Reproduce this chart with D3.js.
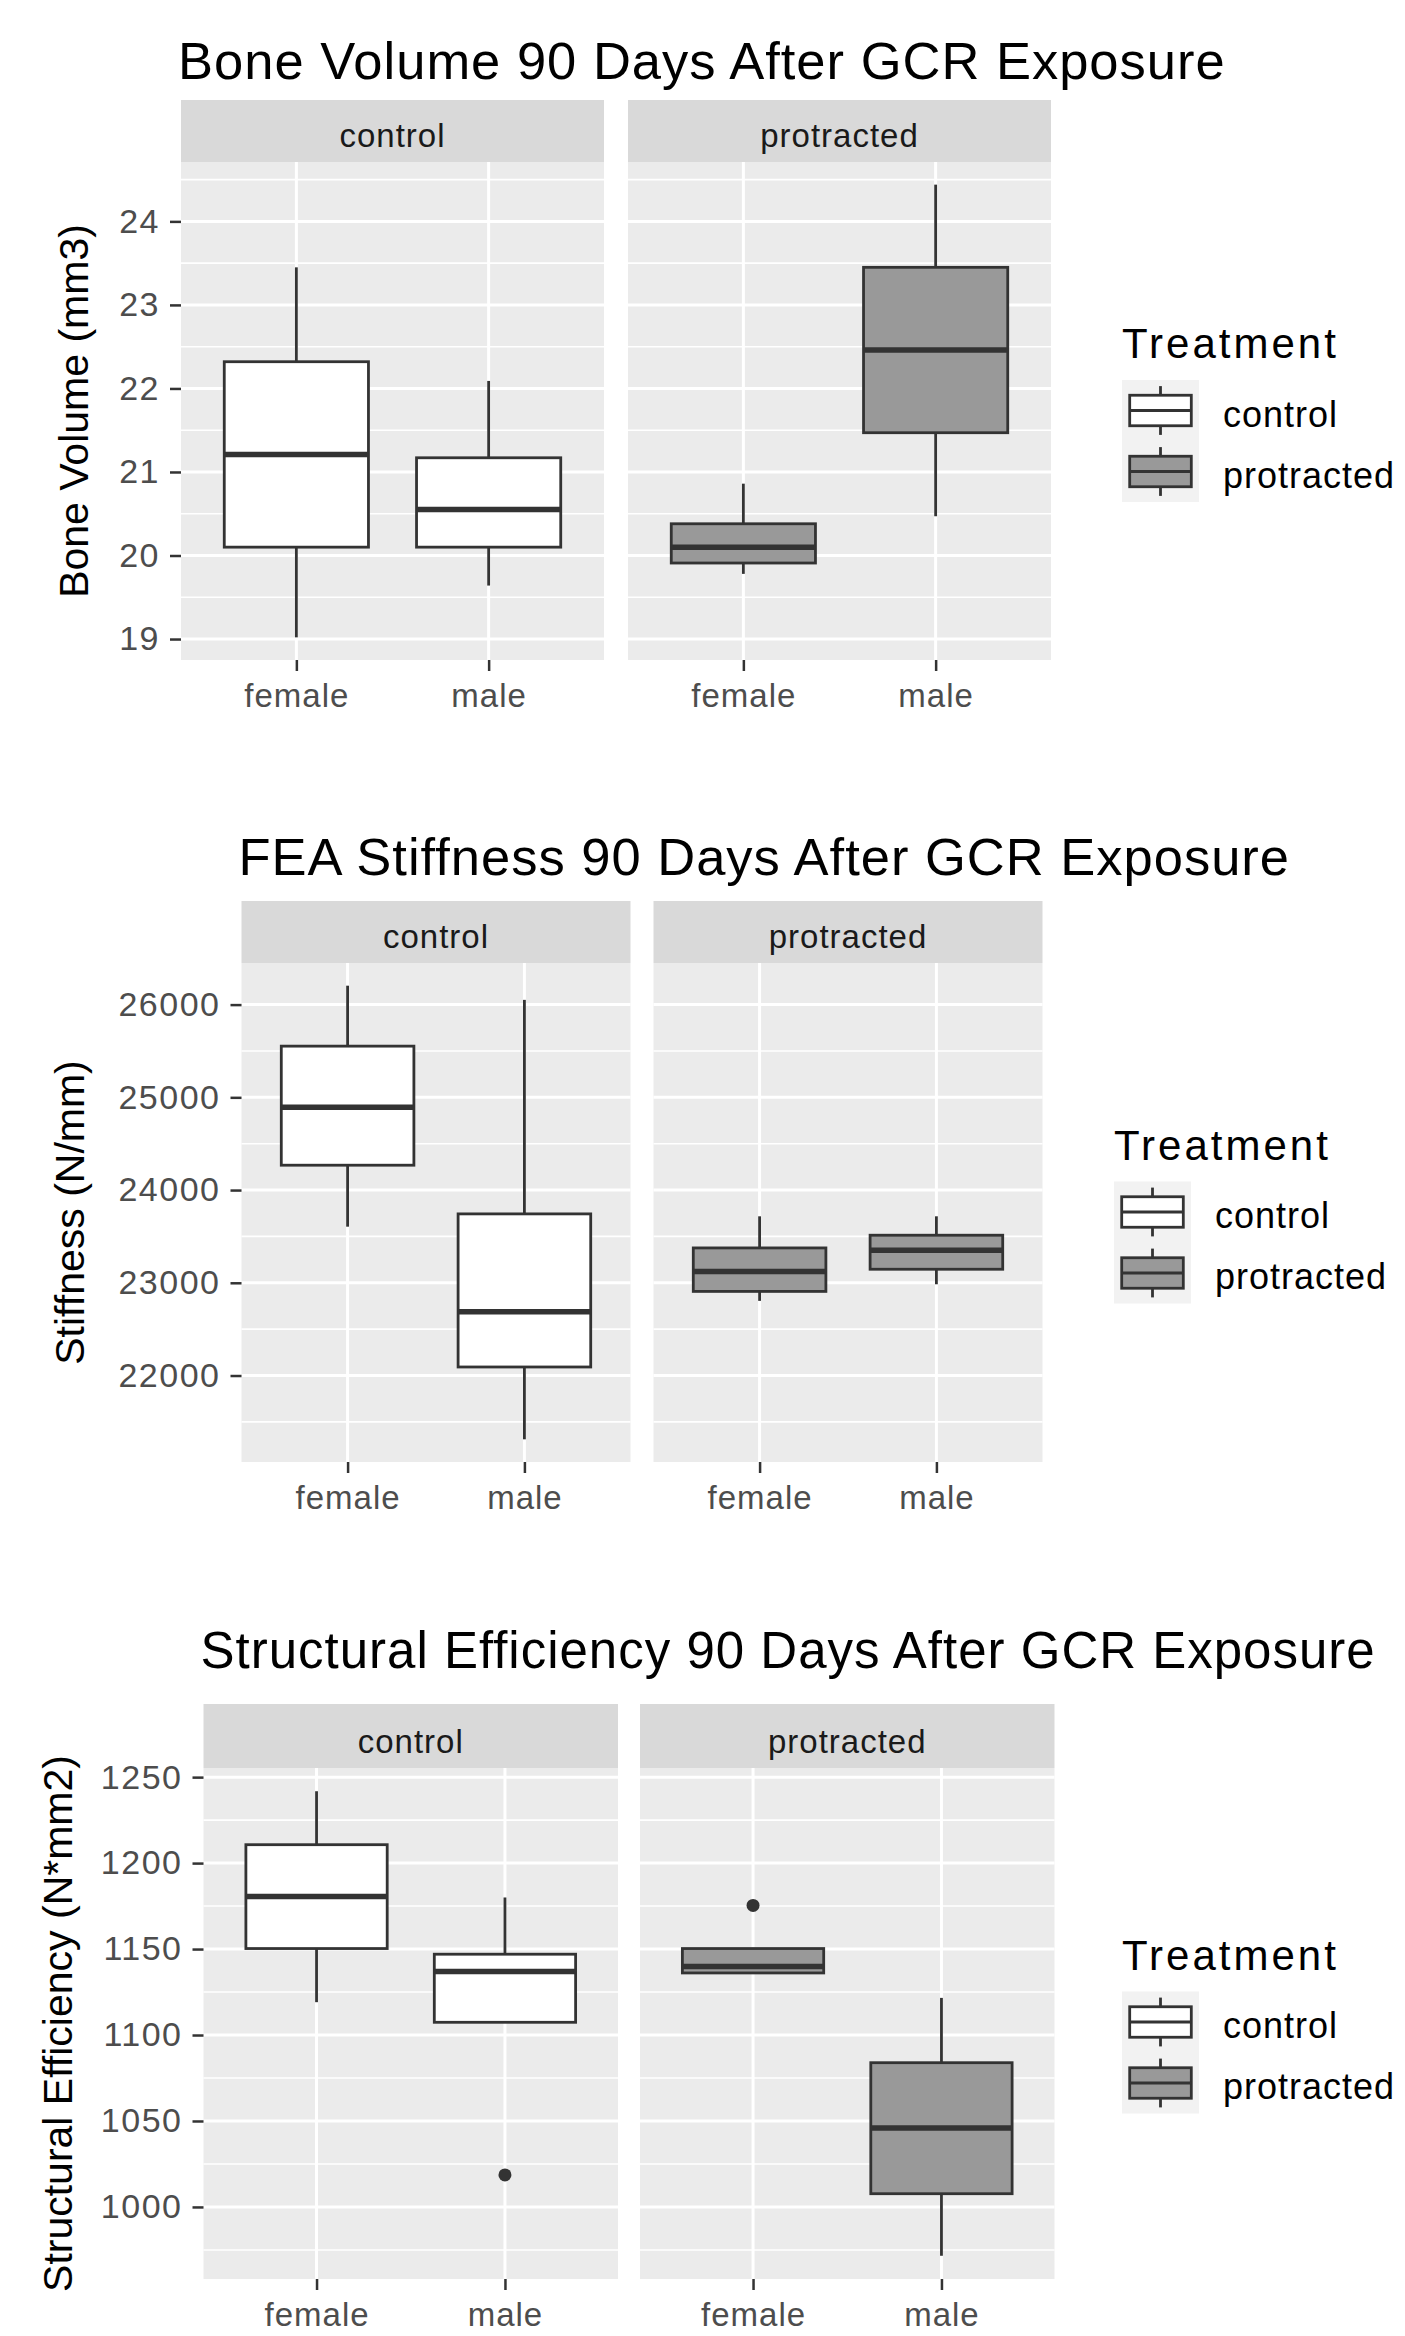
<!DOCTYPE html>
<html>
<head>
<meta charset="utf-8">
<script src="https://cdn.jsdelivr.net/npm/d3@7"></script>
<style>
  body { margin: 0; background: #fff; }
  svg { display: block; font-family: "Liberation Sans", Arial, sans-serif; }
</style>
</head>
<body>
<svg id="chart" width="1405" height="2336"></svg>
<script>
var sexes = ["female", "male"];
var treatments = ["control", "protracted"];
var fills = ["#FFFFFF", "#999999"];

// [lower whisker, Q1, median, Q3, upper whisker]
// order: control/female, control/male, protracted/female, protracted/male
var boneVolume = [
  [19.02, 20.10, 21.21, 22.32, 23.45],
  [19.64, 20.10, 20.55, 21.17, 22.09],
  [19.78, 19.91, 20.10, 20.38, 20.86],
  [20.47, 21.47, 22.46, 23.45, 24.44]
];
var boneVolumeOutliers = [[], [], [], []];
var boneVolumeTicks = [19, 20, 21, 22, 23, 24];

var stiffness = [
  [23605, 24268, 24894, 25552, 26204],
  [21312, 22092, 22688, 23743, 26051],
  [22805, 22907, 23121, 23376, 23717],
  [22984, 23146, 23350, 23513, 23717]
];
var stiffnessOutliers = [[], [], [], []];
var stiffnessTicks = [22000, 23000, 24000, 25000, 26000];

var efficiency = [
  [1119.1, 1150.3, 1180.6, 1210.7, 1241.8],
  [1107.4, 1107.4, 1136.9, 1147.0, 1180.0],
  [1135.5, 1136.1, 1139.9, 1150.3, 1150.3],
  [971.6, 1007.7, 1045.9, 1083.9, 1121.6]
];
var efficiencyOutliers = [[], [1018.6], [1175.4], []];
var efficiencyTicks = [1000, 1050, 1100, 1150, 1200, 1250];

var plots = [
  { title: "Bone Volume 90 Days After GCR Exposure", ylab: "Bone Volume (mm3)",
    stats: boneVolume, outliers: boneVolumeOutliers, ticks: boneVolumeTicks,
    left: 181, width: 423, gap: 24, stripTop: 100, top: 162, bottom: 660,
    titleY: 79, titleSize: 52.5, ylabX: 88, legX: 1122 },
  { title: "FEA Stiffness 90 Days After GCR Exposure", ylab: "Stiffness (N/mm)",
    stats: stiffness, outliers: stiffnessOutliers, ticks: stiffnessTicks,
    left: 241.5, width: 389, gap: 23, stripTop: 901, top: 963, bottom: 1462,
    titleY: 875, titleSize: 52.5, ylabX: 84, legX: 1114 },
  { title: "Structural Efficiency 90 Days After GCR Exposure", ylab: "Structural Efficiency (N*mm2)",
    stats: efficiency, outliers: efficiencyOutliers, ticks: efficiencyTicks,
    left: 203.5, width: 414.5, gap: 22, stripTop: 1704, top: 1768, bottom: 2279,
    titleY: 1668, titleSize: 51, ylabX: 72, legX: 1122 }
];

var svg = d3.select("#chart");
svg.append("rect").attr("width", 1405).attr("height", 2336).attr("fill", "#fff");

plots.forEach(function(cfg) {
  var g = svg.append("g");

  var all = d3.merge(cfg.stats).concat(d3.merge(cfg.outliers));
  var lo = d3.min(all), hi = d3.max(all), pad = (hi - lo) * 0.05;
  var y = d3.scaleLinear().domain([lo - pad, hi + pad]).range([cfg.bottom, cfg.top]);

  var step = cfg.ticks[1] - cfg.ticks[0];
  var minor = d3.range(cfg.ticks[0] - step / 2, cfg.ticks[cfg.ticks.length - 1] + step, step)
    .filter(function(v) { return v >= lo - pad && v <= hi + pad; });

  // title
  g.append("text")
    .attr("x", cfg.left - 3)
    .attr("y", cfg.titleY)
    .attr("font-size", cfg.titleSize)
    .attr("letter-spacing", 1)
    .attr("fill", "#000")
    .text(cfg.title);

  treatments.forEach(function(t, ti) {
    var x0 = cfg.left + ti * (cfg.width + cfg.gap);
    var x = d3.scalePoint().domain(sexes).range([x0, x0 + cfg.width]).padding(0.6);
    var boxW = x.step() * 0.75;

    // strip
    g.append("rect")
      .attr("x", x0).attr("y", cfg.stripTop)
      .attr("width", cfg.width).attr("height", cfg.top - cfg.stripTop)
      .attr("fill", "#D9D9D9");
    g.append("text")
      .attr("x", x0 + cfg.width / 2)
      .attr("y", cfg.top - 15)
      .attr("text-anchor", "middle")
      .attr("font-size", 33)
      .attr("letter-spacing", 1)
      .attr("fill", "#1A1A1A")
      .text(t);

    // panel background
    g.append("rect")
      .attr("x", x0).attr("y", cfg.top)
      .attr("width", cfg.width).attr("height", cfg.bottom - cfg.top)
      .attr("fill", "#EBEBEB");

    // grid
    g.selectAll(null).data(minor).enter().append("line")
      .attr("x1", x0).attr("x2", x0 + cfg.width)
      .attr("y1", function(d) { return y(d); })
      .attr("y2", function(d) { return y(d); })
      .attr("stroke", "#fff").attr("stroke-width", 1.6);
    g.selectAll(null).data(cfg.ticks).enter().append("line")
      .attr("x1", x0).attr("x2", x0 + cfg.width)
      .attr("y1", function(d) { return y(d); })
      .attr("y2", function(d) { return y(d); })
      .attr("stroke", "#fff").attr("stroke-width", 3);
    g.selectAll(null).data(sexes).enter().append("line")
      .attr("x1", function(d) { return x(d); })
      .attr("x2", function(d) { return x(d); })
      .attr("y1", cfg.top).attr("y2", cfg.bottom)
      .attr("stroke", "#fff").attr("stroke-width", 3);

    // boxes
    sexes.forEach(function(s, si) {
      var st = cfg.stats[ti * 2 + si];
      var cx = x(s);
      var bg = g.append("g");
      bg.append("line")
        .attr("x1", cx).attr("x2", cx)
        .attr("y1", y(st[4])).attr("y2", y(st[3]))
        .attr("stroke", "#333").attr("stroke-width", 2.8);
      bg.append("line")
        .attr("x1", cx).attr("x2", cx)
        .attr("y1", y(st[1])).attr("y2", y(st[0]))
        .attr("stroke", "#333").attr("stroke-width", 2.8);
      bg.append("rect")
        .attr("x", cx - boxW / 2).attr("width", boxW)
        .attr("y", y(st[3])).attr("height", y(st[1]) - y(st[3]))
        .attr("fill", fills[ti])
        .attr("stroke", "#333").attr("stroke-width", 2.8);
      bg.append("line")
        .attr("x1", cx - boxW / 2).attr("x2", cx + boxW / 2)
        .attr("y1", y(st[2])).attr("y2", y(st[2]))
        .attr("stroke", "#333").attr("stroke-width", 5.5);
      bg.selectAll("circle").data(cfg.outliers[ti * 2 + si]).enter().append("circle")
        .attr("cx", cx).attr("cy", function(d) { return y(d); })
        .attr("r", 6.5).attr("fill", "#333");
    });

    // x axis
    var xa = g.append("g")
      .attr("transform", "translate(0," + cfg.bottom + ")")
      .call(d3.axisBottom(x).tickSize(11).tickPadding(13));
    xa.select(".domain").remove();
    xa.attr("font-family", null);
    xa.selectAll("line").attr("stroke", "#333").attr("stroke-width", 2.5);
    xa.selectAll("text")
      .attr("font-size", 33).attr("letter-spacing", 1)
      .attr("fill", "#4D4D4D");

    // y axis on the first panel only
    if (ti === 0) {
      var ya = g.append("g")
        .attr("transform", "translate(" + x0 + ",0)")
        .call(d3.axisLeft(y).tickValues(cfg.ticks).tickFormat(d3.format("d"))
          .tickSize(11).tickPadding(10));
      ya.select(".domain").remove();
      ya.attr("font-family", null);
      ya.selectAll("line").attr("stroke", "#333").attr("stroke-width", 2.5);
      ya.selectAll("text")
        .attr("font-size", 34).attr("letter-spacing", 1.5)
        .attr("fill", "#4D4D4D");
    }
  });

  // y axis title
  g.append("text")
    .attr("transform", "translate(" + cfg.ylabX + "," + ((cfg.top + cfg.bottom) / 2) + ") rotate(-90)")
    .attr("text-anchor", "middle")
    .attr("font-size", 41)
    .attr("fill", "#000")
    .text(cfg.ylab);

  // legend
  var keyW = 77, keyH = 61;
  var keyTop = (cfg.stripTop + cfg.bottom) / 2;
  var lg = g.append("g");
  lg.append("text")
    .attr("x", cfg.legX)
    .attr("y", keyTop - 22)
    .attr("font-size", 42)
    .attr("letter-spacing", 3)
    .attr("fill", "#000")
    .text("Treatment");
  lg.append("rect")
    .attr("x", cfg.legX).attr("y", keyTop)
    .attr("width", keyW).attr("height", keyH * treatments.length)
    .attr("fill", "#F2F2F2");
  treatments.forEach(function(t, i) {
    var ky = keyTop + i * keyH;
    var kx = cfg.legX + keyW / 2;
    lg.append("line")
      .attr("x1", kx).attr("x2", kx)
      .attr("y1", ky + keyH * 0.1).attr("y2", ky + keyH * 0.9)
      .attr("stroke", "#333").attr("stroke-width", 2.8);
    lg.append("rect")
      .attr("x", cfg.legX + keyW * 0.1).attr("width", keyW * 0.8)
      .attr("y", ky + keyH * 0.25).attr("height", keyH * 0.5)
      .attr("fill", fills[i])
      .attr("stroke", "#333").attr("stroke-width", 2.8);
    lg.append("line")
      .attr("x1", cfg.legX + keyW * 0.1).attr("x2", cfg.legX + keyW * 0.9)
      .attr("y1", ky + keyH / 2).attr("y2", ky + keyH / 2)
      .attr("stroke", "#333").attr("stroke-width", 2.8);
    lg.append("text")
      .attr("x", cfg.legX + keyW + 24)
      .attr("y", ky + keyH / 2 + 16)
      .attr("font-size", 36)
      .attr("letter-spacing", 1)
      .attr("fill", "#000")
      .text(t);
  });
});
</script>
</body>
</html>
